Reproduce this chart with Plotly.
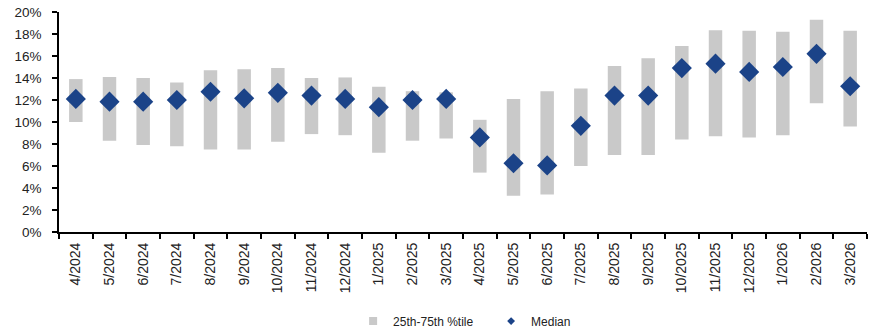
import plotly.graph_objects as go

categories = ["4/2024", "5/2024", "6/2024", "7/2024", "8/2024", "9/2024", "10/2024", "11/2024",
              "12/2024", "1/2025", "2/2025", "3/2025", "4/2025", "5/2025", "6/2025", "7/2025",
              "8/2025", "9/2025", "10/2025", "11/2025", "12/2025", "1/2026", "2/2026", "3/2026"]
p25 = [10.0, 8.3, 7.9, 7.8, 7.5, 7.5, 8.2, 8.9, 8.8, 7.2, 8.3, 8.5, 5.4, 3.3, 3.4, 6.0,
       7.0, 7.0, 8.4, 8.7, 8.6, 8.8, 11.7, 9.6]
p75 = [13.9, 14.1, 14.0, 13.6, 14.7, 14.8, 14.9, 14.0, 14.05, 13.2, 12.8, 12.7, 10.2, 12.1, 12.8, 13.05,
       15.1, 15.8, 16.9, 18.35, 18.3, 18.2, 19.3, 18.3]
median = [12.1, 11.85, 11.85, 12.0, 12.75, 12.15, 12.65, 12.4, 12.1, 11.35, 12.0, 12.1, 8.6, 6.25, 6.05, 9.65,
          12.4, 12.4, 14.9, 15.3, 14.55, 15.0, 16.2, 13.25]
ytick_vals = list(range(0, 21, 2))
ytick_text = [f"{v}%" for v in ytick_vals]

BAR_COLOR = "#C9C9C9"
DIAMOND_COLOR = "#1B4388"
FONT = "Liberation Sans, Arial, sans-serif"

fig = go.Figure()
fig.add_trace(go.Bar(
    x=categories, y=[b - a for a, b in zip(p25, p75)], base=p25,
    marker=dict(color=BAR_COLOR, line=dict(width=0)), width=0.4,
    name="25th-75th %tile", showlegend=False, hoverinfo="skip"))
fig.add_trace(go.Scatter(
    x=categories, y=median, mode="markers",
    marker=dict(symbol="diamond", size=15.5, color=DIAMOND_COLOR, line=dict(width=0)),
    name="Median", showlegend=False))
# legend entries
fig.add_trace(go.Scatter(x=[None], y=[None], mode="markers", name="25th-75th %tile",
                         marker=dict(symbol="square", size=8, color=BAR_COLOR)))
fig.add_trace(go.Scatter(x=[None], y=[None], mode="markers", name="Median",
                         marker=dict(symbol="diamond", size=6, color=DIAMOND_COLOR)))

fig.update_layout(
    width=879, height=328,
    margin=dict(l=59, r=12, t=12, b=96, autoexpand=False),
    plot_bgcolor="white", paper_bgcolor="white",
    font=dict(family=FONT, size=13, color="#222222"),
    legend=dict(orientation="h", x=0.364, xanchor="left", y=-0.405, yanchor="middle",
                font=dict(size=12, color="#222222"), itemwidth=30, bgcolor="rgba(0,0,0,0)",
                traceorder="normal", entrywidth=93, entrywidthmode="pixels"),
)
fig.update_xaxes(
    type="category", tickangle=-90, tickson="boundaries", ticks="outside", ticklen=5,
    tickwidth=1.5, tickcolor="black", showline=True, linecolor="black", linewidth=2,
    showgrid=False, tickfont=dict(size=14, family=FONT, color="#222222"), range=[-0.5, 23.5],
    ticklabelstandoff=3, automargin=False)
fig.update_yaxes(
    range=[0, 20], tickvals=ytick_vals, ticktext=ytick_text, ticks="outside", ticklen=5,
    tickwidth=1.5, tickcolor="black", showline=True, linecolor="black", linewidth=1.5,
    showgrid=False, zeroline=False, tickfont=dict(size=13.5, family=FONT, color="#222222"),
    ticklabelstandoff=8, automargin=False)

fig.write_html("out.html", config={"displayModeBar": False},
               post_script="document.body.style.margin='0';document.body.style.overflow='hidden';")
